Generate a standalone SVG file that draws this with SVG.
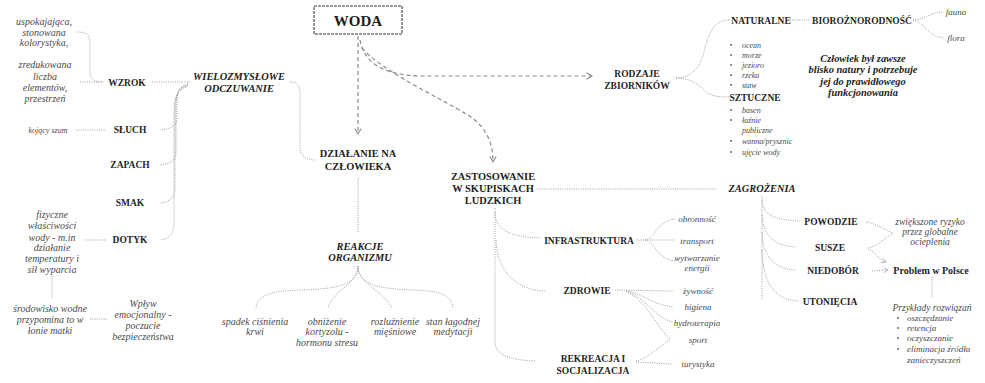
<svg xmlns="http://www.w3.org/2000/svg" width="985" height="383" viewBox="0 0 985 383" font-family="'Liberation Serif', 'DejaVu Serif', serif">
  <style>
    text { text-anchor: middle; }
    .w { font-size: 15px; font-weight: bold; fill: #1e1e1e; }
    .h { font-size: 9.5px; font-weight: bold; fill: #1f1f1f; }
    .hl { font-size: 10.4px; font-weight: bold; fill: #1f1f1f; }
    .hi { font-size: 10.4px; font-weight: bold; font-style: italic; fill: #222; }
    .t { font-size: 10px; font-style: italic; fill: #4a4a4a; }
    .ts { font-size: 9px; font-style: italic; fill: #4a4a4a; }
    .tx { font-size: 8px; font-style: italic; fill: #4a4a4a; }
    .tl { font-size: 8px; font-style: italic; fill: #4a4a4a; text-anchor: start; }
    .tm { font-size: 9px; font-style: italic; fill: #4a4a4a; text-anchor: start; }
    .b { fill: #666; }
    .c { fill: none; stroke: #a0a0a0; stroke-width: 1; stroke-dasharray: 1 1.3; }
    .a { fill: none; stroke: #8a8a8a; stroke-width: 1.2; stroke-dasharray: 4 3; }
  </style>
  <defs>
    <marker id="arr" viewBox="0 0 10 10" refX="8" refY="5" markerWidth="8" markerHeight="8" orient="auto" markerUnits="userSpaceOnUse">
      <path d="M1,1 L8,5 L1,9" fill="none" stroke="#8a8a8a" stroke-width="1.3"/>
    </marker>
    <marker id="arrs" viewBox="0 0 10 10" refX="8" refY="5" markerWidth="6" markerHeight="6" orient="auto" markerUnits="userSpaceOnUse">
      <path d="M1,1 L8,5 L1,9" fill="none" stroke="#a0a0a0" stroke-width="1.2"/>
    </marker>
  </defs>
  <rect width="985" height="383" fill="#fff"/>

  <!-- connectors -->
  <g id="connectors">
    <!-- main dashed arrows from the central box -->
    <path class="a" d="M358,36 L358,134" marker-end="url(#arr)"/>
    <path class="a" d="M360,40 C364,62 382,75 420,76 L592,76" marker-end="url(#arr)"/>
    <path class="a" d="M362,48 C380,70 440,98 468,115 C488,128 493,145 493,162" marker-end="url(#arr)"/>

    <!-- senses -->
    <path class="c" d="M78,32 C87,32 90,36 90,45 L90,72 C90,79 94,82 104,82"/>
    <path class="c" d="M80,82 L103,82"/>
    <path class="c" d="M152,82 L190,82"/>
    <path class="c" d="M188,84 C179,86 177,92 177,104 L177,118 C177,126 171,129 160,130"/>
    <path class="c" d="M188,85 C178,87 176,93 176,108 L176,152 C176,160 171,164 160,165"/>
    <path class="c" d="M187,86 C178,88 175,95 175,112 L175,188 C175,197 170,202 160,203"/>
    <path class="c" d="M186,87 C177,90 174,97 174,115 L174,224 C174,234 169,239 160,240"/>
    <path class="c" d="M76,130 L106,130"/>
    <path class="c" d="M86,240 L106,240"/>
    <path class="c" d="M52,276 L52,298"/>
    <path class="c" d="M90,319 L108,319"/>

    <!-- perception to human impact -->
    <path class="c" d="M290,82 C298,82 300,86 300,95 L300,146 C300,155 305,160 316,160"/>
    <path class="c" d="M358,178 L358,232"/>

    <!-- body reactions -->
    <path class="c" d="M358,266 C358,284 340,289 300,290 C270,291 258,295 256,308"/>
    <path class="c" d="M358,266 C358,284 334,289 328,308"/>
    <path class="c" d="M358,266 C358,284 382,289 392,308"/>
    <path class="c" d="M358,266 C358,284 376,289 415,290 C440,291 452,295 453,308"/>

    <!-- reservoir types -->
    <path class="c" d="M676,78 C690,78 699,70 704,52 C709,30 715,20 730,20"/>
    <path class="c" d="M676,78 C690,78 698,84 704,90 C710,96 716,97 730,97"/>
    <path class="c" d="M790,20 L810,20"/>
    <path class="c" d="M913,20 C924,20 930,12 944,12"/>
    <path class="c" d="M913,20 C924,22 929,37 944,38"/>

    <!-- uses in settlements -->
    <path class="c" d="M537,189 L717,189"/>
    <path class="c" d="M495,208 L495,342 C495,355 510,360 535,361"/>
    <path class="c" d="M495,212 C495,230 510,237 540,238"/>
    <path class="c" d="M496,240 C497,270 515,290 545,291"/>
    <path class="c" d="M636,240 L645,240 C655,238 658,220 675,219"/>
    <path class="c" d="M645,240 L675,240"/>
    <path class="c" d="M645,240 C655,242 658,260 675,261"/>
    <path class="c" d="M615,290 L673,291"/>
    <path class="c" d="M626,291 C645,294 650,304 673,307"/>
    <path class="c" d="M626,291 C645,297 655,318 673,322"/>
    <path class="c" d="M626,291 C648,302 660,332 670,339"/>
    <path class="c" d="M636,361 C650,358 660,345 670,340"/>
    <path class="c" d="M636,362 L672,364"/>

    <!-- threats -->
    <path class="c" d="M762,196 L762,300"/>
    <path class="c" d="M762,200 C762,215 775,220 800,221"/>
    <path class="c" d="M762,215 C763,236 775,246 796,247"/>
    <path class="c" d="M762,232 C763,258 775,269 796,270"/>
    <path class="c" d="M762,250 C763,290 780,300 798,301"/>
    <path class="c" d="M866,222 C878,224 885,230 893,233"/>
    <path class="c" d="M868,248 C878,246 885,238 893,233"/>
    <path class="c" d="M868,249 C875,252 878,259 886,262" marker-end="url(#arrs)"/>
    <path class="c" d="M872,271 L888,270" marker-end="url(#arrs)"/>
    <path class="c" d="M932,277 L932,298"/>
  </g>

  <!-- central node -->
  <g id="woda">
    <rect x="314" y="6" width="88" height="28" fill="#fff" stroke="#7a7a7a" stroke-width="1.6" stroke-dasharray="3 1"/>
    <text class="w" x="358" y="26">WODA</text>
  </g>

  <!-- senses branch -->
  <g id="wielozmyslowe">
    <text class="hi" x="239" y="79.5">WIELOZMYSŁOWE</text>
    <text class="hi" x="239" y="92">ODCZUWANIE</text>
  </g>
  <g id="wzrok"><text class="h" x="127" y="86">WZROK</text></g>
  <g id="sluch"><text class="h" x="130" y="133">SŁUCH</text></g>
  <g id="zapach"><text class="h" x="130" y="168">ZAPACH</text></g>
  <g id="smak"><text class="h" x="130" y="206">SMAK</text></g>
  <g id="dotyk"><text class="h" x="130" y="243">DOTYK</text></g>

  <g id="kolorystyka">
    <text class="t" x="44" y="25">uspokajająca,</text>
    <text class="t" x="44" y="35.5">stonowana</text>
    <text class="t" x="44" y="46">kolorystyka,</text>
  </g>
  <g id="elementy">
    <text class="t" x="45" y="68">zredukowana</text>
    <text class="t" x="45" y="79.5">liczba</text>
    <text class="t" x="45" y="90.5">elementów,</text>
    <text class="t" x="45" y="102">przestrzeń</text>
  </g>
  <g id="szum"><text class="tx" x="48" y="133">kojący szum</text></g>
  <g id="wlasciwosci">
    <text class="t" x="52" y="217.5">fizyczne</text>
    <text class="t" x="52" y="229">właściwości</text>
    <text class="t" x="52" y="240.5">wody - m.in</text>
    <text class="t" x="52" y="251">działanie</text>
    <text class="t" x="52" y="262">temperatury i</text>
    <text class="t" x="52" y="273">sił wyparcia</text>
  </g>
  <g id="srodowisko">
    <text class="t" x="50" y="311.5">środowisko wodne</text>
    <text class="t" x="50" y="322.5">przypomina to w</text>
    <text class="t" x="50" y="333.5">łonie matki</text>
  </g>
  <g id="wplyw">
    <text class="t" x="143" y="306.5">Wpływ</text>
    <text class="t" x="143" y="317.5">emocjonalny -</text>
    <text class="t" x="143" y="328.5">poczucie</text>
    <text class="t" x="143" y="340">bezpieczeństwa</text>
  </g>

  <!-- human impact branch -->
  <g id="dzialanie">
    <text class="hl" x="358" y="156.5">DZIAŁANIE NA</text>
    <text class="hl" x="358" y="169.5">CZŁOWIEKA</text>
  </g>
  <g id="reakcje">
    <text class="hi" x="360" y="249.5">REAKCJE</text>
    <text class="hi" x="360" y="261">ORGANIZMU</text>
  </g>
  <g id="cisnienie">
    <text class="t" x="255" y="324.5">spadek ciśnienia</text>
    <text class="t" x="255" y="335">krwi</text>
  </g>
  <g id="kortyzol">
    <text class="t" x="327" y="324.5">obniżenie</text>
    <text class="t" x="327" y="335">kortyzolu -</text>
    <text class="t" x="327" y="345.5">hormonu stresu</text>
  </g>
  <g id="rozluznienie">
    <text class="t" x="395" y="324.5">rozluźnienie</text>
    <text class="t" x="395" y="335">mięśniowe</text>
  </g>
  <g id="medytacja">
    <text class="t" x="453" y="324.5">stan łagodnej</text>
    <text class="t" x="453" y="335">medytacji</text>
  </g>

  <!-- reservoir branch -->
  <g id="rodzaje">
    <text class="h" x="637" y="76.5">RODZAJE</text>
    <text class="h" x="637" y="88.5">ZBIORNIKÓW</text>
  </g>
  <g id="naturalne">
    <text class="h" x="761" y="23.5">NATURALNE</text>
    <circle class="b" cx="731" cy="45" r="1"/><text class="tl" x="742" y="47.5">ocean</text>
    <circle class="b" cx="731" cy="55" r="1"/><text class="tl" x="742" y="57.5">morze</text>
    <circle class="b" cx="731" cy="65" r="1"/><text class="tl" x="742" y="67.5">jezioro</text>
    <circle class="b" cx="731" cy="75" r="1"/><text class="tl" x="742" y="77.5">rzeka</text>
    <circle class="b" cx="731" cy="85" r="1"/><text class="tl" x="742" y="87.5">staw</text>
  </g>
  <g id="bioroznorodnosc"><text class="h" x="862" y="23.5">BIOROŻNORODNOŚĆ</text></g>
  <g id="fauna"><text class="ts" x="956" y="15">fauna</text></g>
  <g id="flora"><text class="ts" x="956" y="41">flora</text></g>
  <g id="czlowiek">
    <text class="hi" x="863" y="61.5">Człowiek był zawsze</text>
    <text class="hi" x="863" y="73">blisko natury i potrzebuje</text>
    <text class="hi" x="863" y="84.5">jej do prawidłowego</text>
    <text class="hi" x="863" y="96">funkcjonowania</text>
  </g>
  <g id="sztuczne">
    <text class="h" x="755" y="100.5">SZTUCZNE</text>
    <circle class="b" cx="731" cy="110" r="1"/><text class="tl" x="742" y="112.5">basen</text>
    <circle class="b" cx="731" cy="120" r="1"/><text class="tl" x="742" y="122.5">łaźnie</text>
    <text class="tl" x="742" y="133">publiczne</text>
    <circle class="b" cx="731" cy="141" r="1"/><text class="tl" x="742" y="143.5">wanna/prysznic</text>
    <circle class="b" cx="731" cy="152" r="1"/><text class="tl" x="742" y="154.5">ujęcie wody</text>
  </g>

  <!-- settlements branch -->
  <g id="zastosowanie">
    <text class="hl" x="493" y="179.5">ZASTOSOWANIE</text>
    <text class="hl" x="493" y="191.5">W SKUPISKACH</text>
    <text class="hl" x="493" y="203.5">LUDZKICH</text>
  </g>
  <g id="infrastruktura"><text class="h" x="589" y="244">INFRASTRUKTURA</text></g>
  <g id="obronnosc"><text class="ts" x="697" y="222">obronność</text></g>
  <g id="transport"><text class="ts" x="697" y="244">transport</text></g>
  <g id="energia">
    <text class="ts" x="697" y="260.5">wytwarzanie</text>
    <text class="ts" x="697" y="270.5">energii</text>
  </g>
  <g id="zdrowie"><text class="h" x="587" y="293.5">ZDROWIE</text></g>
  <g id="zywnosc"><text class="ts" x="698" y="294">żywność</text></g>
  <g id="higiena"><text class="ts" x="698" y="310">higiena</text></g>
  <g id="hydroterapia"><text class="ts" x="697" y="326">hydroterapia</text></g>
  <g id="sport"><text class="ts" x="698" y="343">sport</text></g>
  <g id="turystyka"><text class="ts" x="698" y="367">turystyka</text></g>
  <g id="rekreacja">
    <text class="h" x="593" y="362">REKREACJA I</text>
    <text class="h" x="593" y="373.5">SOCJALIZACJA</text>
  </g>

  <!-- threats branch -->
  <g id="zagrozenia"><text class="hi" x="762" y="191.5">ZAGROŻENIA</text></g>
  <g id="powodzie"><text class="h" x="831" y="225">POWODZIE</text></g>
  <g id="susze"><text class="h" x="830" y="251">SUSZE</text></g>
  <g id="niedobor"><text class="h" x="833" y="274">NIEDOBÓR</text></g>
  <g id="utoniecia"><text class="h" x="830" y="305">UTONIĘCIA</text></g>
  <g id="ocieplenie">
    <text class="t" x="930" y="224.5" style="font-size:9.5px">zwiększone ryzyko</text>
    <text class="t" x="930" y="234.5" style="font-size:9.5px">przez globalne</text>
    <text class="t" x="930" y="244.5" style="font-size:9.5px">ocieplenia</text>
  </g>
  <g id="problem"><text class="hl" x="931" y="274" style="font-size:10px">Problem w Polsce</text></g>
  <g id="rozwiazania">
    <text class="t" x="932" y="311" style="font-size:9.5px">Przykłady rozwiązań</text>
    <circle class="b" cx="898" cy="318" r="1"/><text class="tm" x="907" y="321">oszczędzanie</text>
    <circle class="b" cx="898" cy="328" r="1"/><text class="tm" x="907" y="331">retencja</text>
    <circle class="b" cx="898" cy="338" r="1"/><text class="tm" x="907" y="341">oczyszczanie</text>
    <circle class="b" cx="898" cy="349" r="1"/><text class="tm" x="907" y="352">eliminacja źródła</text>
    <text class="tm" x="907" y="362.5">zanieczyszczeń</text>
  </g>
</svg>
